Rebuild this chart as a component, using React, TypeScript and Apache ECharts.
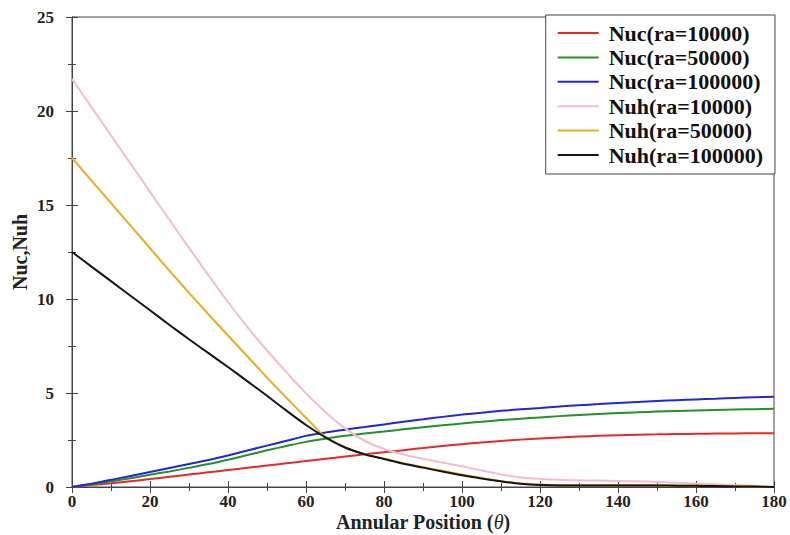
import React, { useEffect, useRef } from "react";
import * as echarts from "echarts";

const theta = [0, 5, 10, 15, 20, 25, 30, 35, 40, 45, 50, 55, 60, 65, 70, 75, 80, 85, 90, 95, 100, 105, 110, 115, 120, 125, 130, 135, 140, 145, 150, 155, 160, 165, 170, 175, 180];

const nucRa10000 = [0, 0.1, 0.2, 0.31, 0.42, 0.54, 0.66, 0.78, 0.9, 1.02, 1.14, 1.26, 1.38, 1.5, 1.62, 1.74, 1.85, 1.96, 2.07, 2.18, 2.28, 2.37, 2.45, 2.52, 2.58, 2.63, 2.68, 2.72, 2.75, 2.78, 2.8, 2.82, 2.83, 2.84, 2.85, 2.86, 2.86];
const nucRa50000 = [0, 0.14, 0.3, 0.47, 0.65, 0.83, 1.02, 1.22, 1.45, 1.7, 1.95, 2.18, 2.4, 2.57, 2.72, 2.84, 2.95, 3.07, 3.18, 3.28, 3.38, 3.47, 3.56, 3.63, 3.7, 3.77, 3.83, 3.88, 3.93, 3.97, 4.01, 4.04, 4.07, 4.1, 4.12, 4.14, 4.16];
const nucRa100000 = [0, 0.18, 0.38, 0.59, 0.8, 1.01, 1.22, 1.44, 1.68, 1.94, 2.2, 2.46, 2.72, 2.9, 3.05, 3.19, 3.33, 3.47, 3.6, 3.73, 3.85, 3.95, 4.05, 4.13, 4.2, 4.28, 4.35, 4.41, 4.47, 4.52, 4.57, 4.62, 4.66, 4.7, 4.74, 4.77, 4.8];
const nuhRa10000 = [21.7, 20.2, 18.7, 17.2, 15.7, 14.2, 12.72, 11.26, 9.84, 8.5, 7.26, 6.1, 4.98, 3.98, 3.12, 2.46, 2.02, 1.73, 1.5, 1.3, 1.1, 0.88, 0.67, 0.51, 0.43, 0.38, 0.36, 0.34, 0.32, 0.3, 0.27, 0.23, 0.18, 0.14, 0.1, 0.05, 0];
const nuhRa50000 = [17.5, 16.3, 15.1, 13.9, 12.7, 11.5, 10.33, 9.18, 8.06, 6.94, 5.82, 4.74, 3.68, 2.66, 2.12, 1.76, 1.5, 1.27, 1.07, 0.86, 0.66, 0.48, 0.31, 0.19, 0.13, 0.11, 0.1, 0.1, 0.1, 0.1, 0.1, 0.09, 0.08, 0.06, 0.04, 0.02, 0];
const nuhRa100000 = [12.5, 11.72, 10.95, 10.17, 9.4, 8.62, 7.86, 7.12, 6.38, 5.62, 4.85, 4.06, 3.3, 2.64, 2.1, 1.74, 1.49, 1.24, 1.03, 0.82, 0.62, 0.45, 0.3, 0.17, 0.1, 0.08, 0.08, 0.08, 0.08, 0.08, 0.08, 0.07, 0.06, 0.05, 0.03, 0.02, 0];

const seriesNames = ["Nuc(ra=10000)", "Nuc(ra=50000)", "Nuc(ra=100000)", "Nuh(ra=10000)", "Nuh(ra=50000)", "Nuh(ra=100000)"];
const seriesValues = [nucRa10000, nucRa50000, nucRa100000, nuhRa10000, nuhRa50000, nuhRa100000];
const seriesColors = ["#e32b2b", "#23902a", "#2424dc", "#f6bccb", "#f2a91e", "#151515"];

const FONT = "'Liberation Serif', 'Times New Roman', serif";
const AXIS_COLOR = "#444";

export default function App() {
  const ref = useRef<HTMLDivElement>(null);
  useEffect(() => {
    const chart = echarts.init(ref.current!, null, { renderer: "svg" });
    const tickCommon = {
      axisLine: { show: true, lineStyle: { color: AXIS_COLOR, width: 1 } },
      axisTick: { show: true, inside: true, length: 6, lineStyle: { color: AXIS_COLOR } },
      minorTick: { show: true, splitNumber: 2, length: 4, lineStyle: { color: AXIS_COLOR } },
      splitLine: { show: false },
    };
    chart.setOption({
      animation: false,
      backgroundColor: "#fff",
      grid: {
        left: 72,
        right: 16,
        top: 17,
        bottom: 48,
        outerBoundsMode: "none",
        containLabel: false,
        show: true,
        borderColor: AXIS_COLOR,
        borderWidth: 1,
      },
      legend: {
        orient: "vertical",
        right: 15,
        top: 15,
        backgroundColor: "#fff",
        borderColor: AXIS_COLOR,
        borderWidth: 1,
        borderRadius: 0,
        padding: [7, 12, 8, 12],
        icon: "rect",
        itemWidth: 41,
        itemHeight: 2,
        itemGap: 2.4,
        textStyle: { fontFamily: FONT, fontWeight: "bold", fontSize: 22, color: "#111", lineHeight: 20, padding: [0, 0, 0, 5] },
        data: seriesNames,
      },
      xAxis: [
        {
          type: "value",
          min: 0,
          max: 180,
          interval: 20,
          ...tickCommon,
          axisLabel: { fontFamily: FONT, fontWeight: "bold", fontSize: 17, color: "#222", margin: 6 },
          name: "Annular Position ({i|θ})",
          nameLocation: "middle",
          nameGap: 25,
          nameMoveOverlap: false,
          nameTextStyle: {
            fontFamily: FONT,
            fontWeight: "bold",
            fontSize: 20,
            lineHeight: 20,
            color: "#222",
            rich: { i: { fontFamily: FONT, fontStyle: "italic", fontWeight: "normal", fontSize: 20, lineHeight: 20, color: "#222" } },
          },
        },
        {
          type: "value",
          position: "top",
          min: 0,
          max: 180,
          interval: 20,
          ...tickCommon,
          axisLabel: { show: false },
        },
      ],
      yAxis: [
        {
          type: "value",
          min: 0,
          max: 25,
          interval: 5,
          ...tickCommon,
          axisLabel: { fontFamily: FONT, fontWeight: "bold", fontSize: 17, color: "#222", margin: 18 },
          name: "Nuc,Nuh",
          nameLocation: "middle",
          nameRotate: 90,
          nameGap: 42,
          nameMoveOverlap: false,
          nameTextStyle: { fontFamily: FONT, fontWeight: "bold", fontSize: 20, color: "#222" },
        },
        {
          type: "value",
          position: "right",
          min: 0,
          max: 25,
          interval: 5,
          ...tickCommon,
          axisLabel: { show: false },
        },
      ],
      series: seriesNames.map((name, k) => ({
        name,
        type: "line",
        xAxisIndex: 0,
        yAxisIndex: 0,
        symbol: "none",
        smooth: 0.3,
        lineStyle: { color: seriesColors[k], width: 2 },
        itemStyle: { color: seriesColors[k] },
        data: theta.map((t, i) => [t, seriesValues[k][i]]),
      })),
    });
    return () => chart.dispose();
  }, []);
  return <div ref={ref} style={{ position: "fixed", left: 0, top: 0, width: 790, height: 535 }} />;
}
